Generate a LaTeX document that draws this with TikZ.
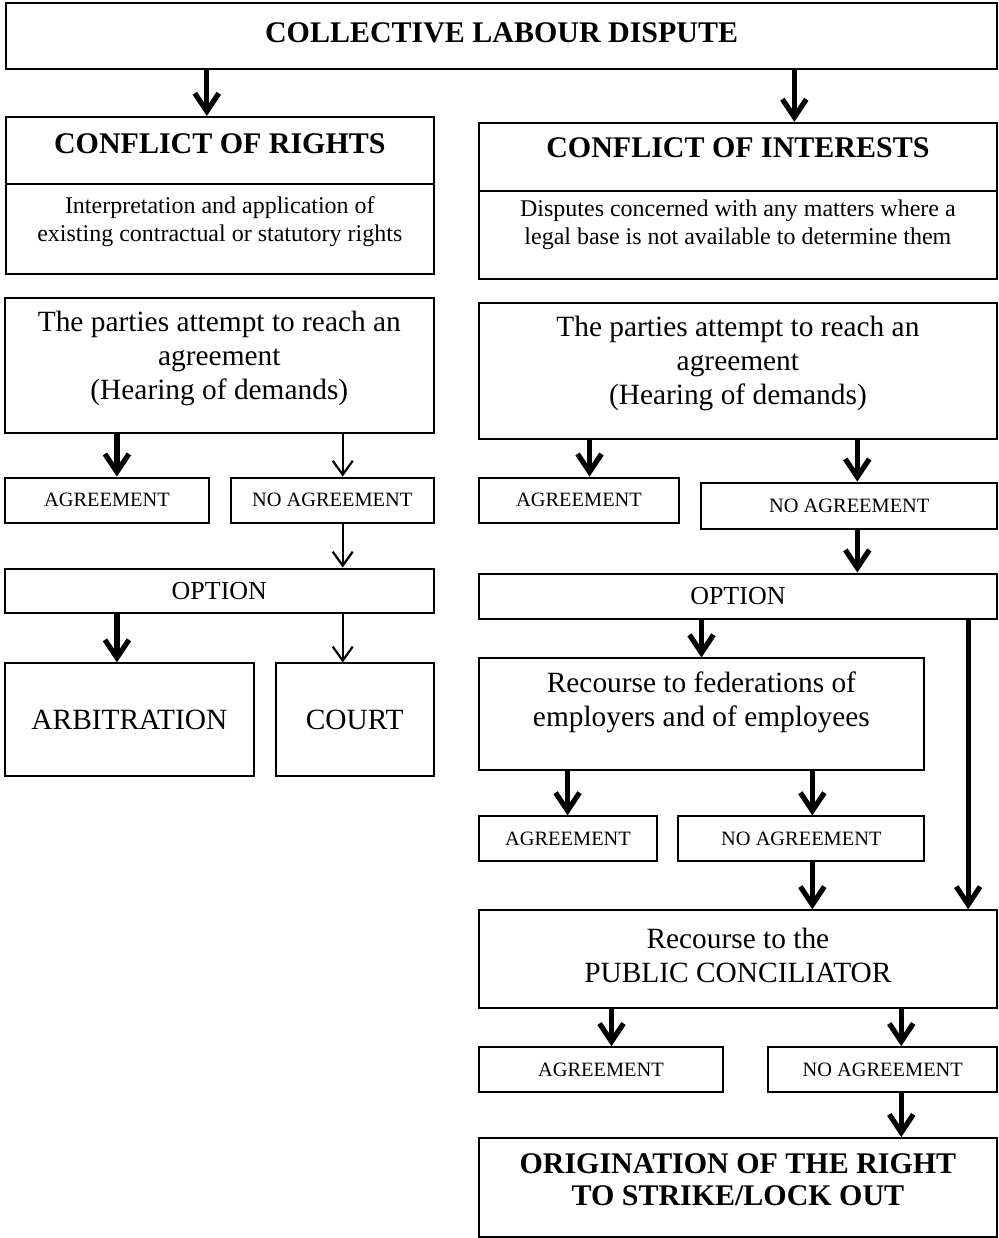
\documentclass[tikz,border=0pt]{standalone}
\usepackage{fontspec}
\setmainfont{Liberation Serif}
\usetikzlibrary{
  arrows.meta
}

\tikzset{
  box/.style={draw, line width=1pt, anchor=north west, inner sep=0pt, align=center},
  head/.style={align=center, font=\fontsize{15}{16}\selectfont\bfseries},
  big/.style={align=center, font=\fontsize{14.7}{17}\selectfont},
  desc/.style={align=center, font=\fontsize{12}{14}\selectfont},
  small/.style={font=\fontsize{10.2}{12}\selectfont},
  opt/.style={font=\fontsize{13}{15}\selectfont},
  fat/.style={line width=2.6pt, -{Straight Barb[length=9pt,width=12pt]}},
  slim/.style={line width=1.1pt, -{Straight Barb[length=7pt,width=10pt]}},
}

\begin{document}
\begin{tikzpicture}[x=0.5pt, y=-0.5pt]
\fill[white] (0,0) rectangle (999,1238);
\node[box, minimum width=496pt, minimum height=33pt] (dispute) at (5,2) {};
\node[head] (dispute-t) at ([yshift=1.5pt]dispute.center) {COLLECTIVE LABOUR DISPUTE};

% conflict of rights
\node[box, minimum width=214pt, minimum height=33.5pt] (rights) at (5,116) {};
\node[head] (rights-t) at ([yshift=3.5pt]rights.center) {CONFLICT OF RIGHTS};
\node[box, minimum width=214pt, minimum height=45pt] (rights-d) at (5,183) {};
\node[desc] (rights-dt) at ([yshift=3.5pt]rights-d.center) {Interpretation and application of\\existing contractual or statutory rights};
\node[box, minimum width=214.5pt, minimum height=67.5pt] (talk-l) at (4,297) {};
\node[big] (talk-lt) at ([yshift=3.5pt]talk-l.center) {The parties attempt to reach an\\agreement\\(Hearing of demands)};
\node[box, small, minimum width=102pt, minimum height=22.5pt] (agr-l) at (4,477) {AGREEMENT};
\node[box, small, minimum width=101.5pt, minimum height=22.5pt] (noagr-l) at (230,477) {NO AGREEMENT};
\node[box, opt, minimum width=214.5pt, minimum height=22pt] (opt-l) at (4,568) {OPTION};
\node[box, big, minimum width=124.5pt, minimum height=56.5pt] (arb) at (4,663) {ARBITRATION};
\node[box, big, minimum width=79pt, minimum height=56.5pt] (court) at (275,663) {COURT};

% conflict of interests
\node[box, minimum width=259.5pt, minimum height=34pt] (interests) at (478,122) {};
\node[head] (interests-t) at ([yshift=4.5pt]interests.center) {CONFLICT OF INTERESTS};
\node[box, minimum width=259.5pt, minimum height=44pt] (interests-d) at (478,190) {};
\node[desc] (interests-dt) at ([yshift=5pt]interests-d.center) {Disputes concerned with any matters where a\\legal base is not available to determine them};
\node[box, minimum width=259.5pt, minimum height=68pt] (talk-r) at (478,302) {};
\node[big] (talk-rt) at ([yshift=3.5pt]talk-r.center) {The parties attempt to reach an\\agreement\\(Hearing of demands)};
\node[box, small, minimum width=100.5pt, minimum height=22.5pt] (agr-r1) at (478,477) {AGREEMENT};
\node[box, small, minimum width=148pt, minimum height=23pt] (noagr-r1) at (701,482) {NO AGREEMENT};
\node[box, opt, minimum width=259.5pt, minimum height=22.5pt] (opt-r) at (478,573) {OPTION};
\node[box, minimum width=223pt, minimum height=56pt] (fed) at (478,658) {};
\node[big] (fed-t) at ([yshift=6pt]fed.center) {Recourse to federations of\\employers and of employees};
\node[box, small, minimum width=89.5pt, minimum height=22.5pt] (agr-r2) at (478,816) {AGREEMENT};
\node[box, small, minimum width=123pt, minimum height=22.5pt] (noagr-r2) at (678,816) {NO AGREEMENT};
\node[box, minimum width=259.5pt, minimum height=49pt] (pc) at (478,910) {};
\node[big] (pc-t) at ([yshift=2pt]pc.center) {Recourse to the\\PUBLIC CONCILIATOR};
\node[box, small, minimum width=122.5pt, minimum height=22.5pt] (agr-r3) at (478,1047) {AGREEMENT};
\node[box, small, minimum width=114.5pt, minimum height=22.5pt] (noagr-r3) at (768,1047) {NO AGREEMENT};
\node[box, minimum width=259.5pt, minimum height=49.5pt] (strike) at (478,1138) {};
\node[head] (strike-t) at ([yshift=4pt]strike.center) {ORIGINATION OF THE RIGHT\\TO STRIKE/LOCK OUT};

% arrows
\draw[slim] (talk-l.south -| 343,0) -- (noagr-l.north -| 343,0);
\draw[slim] (noagr-l.south -| 343,0) -- (opt-l.north -| 343,0);
\draw[slim] (opt-l.south -| 343,0) -- (court.north -| 343,0);
\foreach \a/\b/\x in {dispute/rights/207, dispute/interests/795,
    talk-l/agr-l/117, opt-l/arb/117,
    talk-r/agr-r1/590, talk-r/noagr-r1/858, noagr-r1/opt-r/858,
    opt-r/fed/702, opt-r/pc/969, fed/agr-r2/568, fed/noagr-r2/813,
    noagr-r2/pc/813, pc/agr-r3/612, pc/noagr-r3/902, noagr-r3/strike/902}
  \draw[fat] (\a.south -| \x,0) -- (\b.north -| \x,0);
\end{tikzpicture}
\end{document}
